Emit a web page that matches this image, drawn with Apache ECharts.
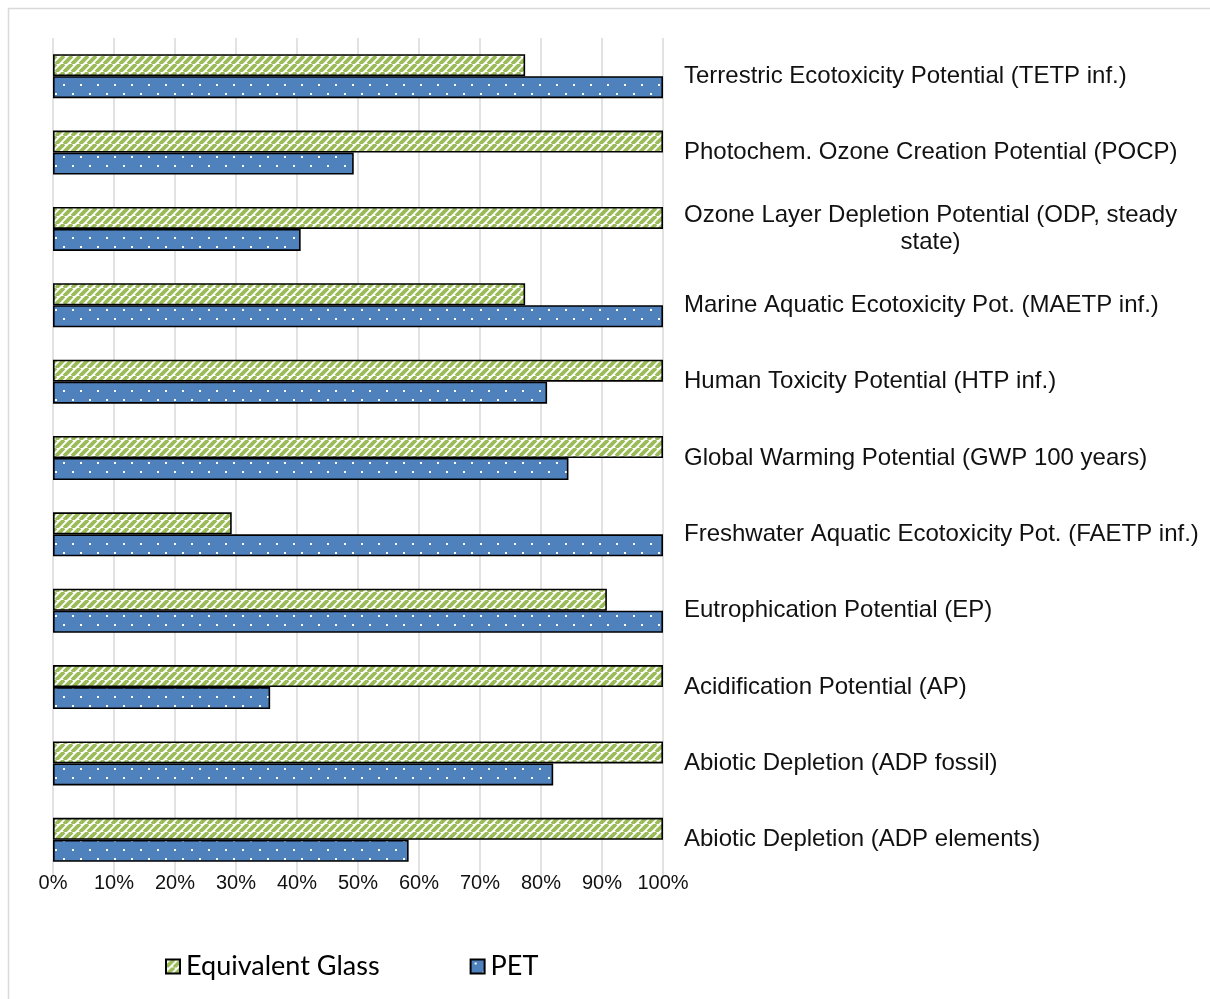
<!DOCTYPE html>
<html>
<head>
<meta charset="utf-8">
<script src="https://cdn.jsdelivr.net/npm/echarts@6/dist/echarts.min.js"></script>
<style>
  html, body { margin: 0; padding: 0; background: #fff; }
  #chart { width: 1210px; height: 999px; }
</style>
</head>
<body>
<div id="chart"></div>
<script>
// Impact categories, listed from the bottom of the chart to the top
const categories = [
  'Abiotic Depletion (ADP elements)',
  'Abiotic Depletion (ADP fossil)',
  'Acidification Potential (AP)',
  'Eutrophication Potential (EP)',
  'Freshwater Aquatic Ecotoxicity Pot. (FAETP inf.)',
  'Global Warming Potential (GWP 100 years)',
  'Human Toxicity Potential (HTP inf.)',
  'Marine Aquatic Ecotoxicity Pot. (MAETP inf.)',
  'Ozone Layer Depletion Potential (ODP, steady\nstate)',
  'Photochem. Ozone Creation Potential (POCP)',
  'Terrestric Ecotoxicity Potential (TETP inf.)'
];

// Relative impact (%), the larger of the two packagings = 100 %
const glassValues = [100, 100, 100, 90.8, 29.3, 100, 100, 77.4, 100, 100, 77.4];
const petValues   = [58.3, 82.0, 35.6, 100, 100, 84.5, 81.0, 100, 40.6, 49.3, 100];

const seriesNames = ['Equivalent Glass', 'PET'];

// Diagonal green stripes on white
function stripePattern() {
  const s = 8;
  const c = document.createElement('canvas');
  c.width = s; c.height = s;
  const g = c.getContext('2d');
  g.fillStyle = '#ffffff';
  g.fillRect(0, 0, s, s);
  g.strokeStyle = '#9BBB59';
  g.lineWidth = 3.8;
  g.beginPath();
  for (let k = -1; k <= 1; k++) {
    g.moveTo(k * s, s);
    g.lineTo(k * s + s, 0);
  }
  g.stroke();
  return c;
}

// Blue fill with a staggered grid of small white dots
function dotPattern() {
  const w = 17, h = 18;
  const c = document.createElement('canvas');
  c.width = w; c.height = h;
  const g = c.getContext('2d');
  g.fillStyle = '#4F81BD';
  g.fillRect(0, 0, w, h);
  g.fillStyle = '#ffffff';
  g.fillRect(4, 3, 2, 2);
  g.fillRect(12, 12, 2, 2);
  return c;
}

const labelFont = 'Liberation Sans, Arial, sans-serif';

const chart = echarts.init(document.getElementById('chart'), null, { renderer: 'canvas' });

chart.setOption({
  animation: false,
  backgroundColor: '#ffffff',
  graphic: [{
    type: 'rect',
    shape: { x: 8.5, y: 8.5, width: 1220, height: 1010 },
    style: { fill: 'none', stroke: '#d9d9d9', lineWidth: 1.5 },
    silent: true
  }],
  grid: { left: 53, right: 547, top: 38, bottom: 121, containLabel: false },
  legend: {
    data: seriesNames,
    left: 160,
    top: 948,
    icon: 'rect',
    itemWidth: 14,
    itemHeight: 14,
    itemGap: 90,
    textStyle: {
      fontFamily: 'Lato, Open Sans, sans-serif',
      fontSize: 27,
      color: '#000',
      padding: [0, 0, 0, 1]
    }
  },
  xAxis: {
    type: 'value',
    min: 0,
    max: 100,
    interval: 10,
    axisLine: { show: false },
    axisTick: { show: false },
    splitLine: { show: true, lineStyle: { color: '#d9d9d9', width: 1.5 } },
    axisLabel: {
      formatter: '{value}%',
      margin: -5,
      fontFamily: labelFont,
      fontSize: 20,
      color: '#111'
    }
  },
  yAxis: {
    type: 'category',
    data: categories,
    position: 'right',
    axisLine: { show: false },
    axisTick: { show: false },
    axisLabel: {
      margin: 21,
      fontFamily: labelFont,
      fontSize: 24,
      color: '#111',
      lineHeight: 27,
      formatter: function (v) {
        const parts = v.split('\n');
        if (parts.length === 1) return v;
        return '{a|' + parts[0] + '}\n{c|' + parts[1] + '}';
      },
      rich: {
        a: { fontFamily: labelFont, fontSize: 24, color: '#111', lineHeight: 27, align: 'left' },
        c: { fontFamily: labelFont, fontSize: 24, color: '#111', lineHeight: 27, align: 'center' }
      }
    }
  },
  series: [
    {
      name: seriesNames[0],
      type: 'bar',
      data: glassValues,
      barWidth: 22,
      barGap: '0%',
      itemStyle: {
        color: { image: stripePattern(), repeat: 'repeat' },
        borderColor: '#000',
        borderWidth: 1.6
      }
    },
    {
      name: seriesNames[1],
      type: 'bar',
      data: petValues,
      barWidth: 22,
      barGap: '0%',
      itemStyle: {
        color: { image: dotPattern(), repeat: 'repeat' },
        borderColor: '#000',
        borderWidth: 1.6
      }
    }
  ]
});
</script>
</body>
</html>
